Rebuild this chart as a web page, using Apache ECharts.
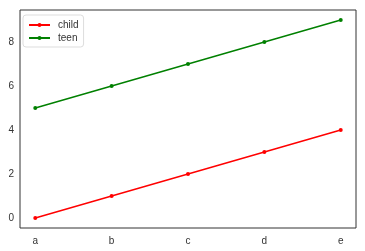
<!DOCTYPE html>
<html><head><meta charset="utf-8">
<script src="https://cdn.jsdelivr.net/npm/echarts@6/dist/echarts.min.js"></script>
<style>html,body{margin:0;padding:0;background:#fff}#c{width:365px;height:251px}</style>
</head><body><div id="c"></div>
<script>
const categories = ['a','b','c','d','e'];
const childValues = [0,1,2,3,4];
const teenValues = [5,6,7,8,9];
const yTicks = [0,2,4,6,8];

const chart = echarts.init(document.getElementById('c'), null, {renderer:'canvas'});
const font = {fontFamily:'Liberation Sans', fontSize:10, color:'#333'};
chart.setOption({
  animation:false,
  backgroundColor:'#fff',
  grid:{left:20, top:10, right:9, bottom:23, show:true, borderColor:'#333', borderWidth:1, containLabel:false},
  legend:{
    orient:'vertical', left:23, top:15, padding:[5,5,4,5], itemGap:3,
    itemWidth:21, itemHeight:5,
    borderColor:'#ddd', borderWidth:1, borderRadius:3, backgroundColor:'#fff',
    textStyle:{fontFamily:'Liberation Sans', fontSize:10, color:'#333', padding:[0,0,0,3], lineHeight:10},
    data:['child','teen']
  },
  xAxis:{
    type:'value', min:-0.2, max:4.2,
    splitLine:{show:false}, axisTick:{show:false},
    axisLine:{show:false},
    axisLabel:{...font, margin:8, customValues:categories.map((c,i)=>i), formatter:v=>categories[Math.round(v)]}
  },
  yAxis:{
    type:'value', min:-0.45, max:9.45,
    splitLine:{show:false}, axisTick:{show:false},
    axisLine:{show:false},
    axisLabel:{...font, margin:6, customValues:yTicks, formatter:v=>String(v)}
  },
  series:[
    {name:'child', type:'line', data:childValues.map((v,i)=>[i,v]), color:'#ff0000',
     lineStyle:{width:1.5}, symbol:'circle', symbolSize:4},
    {name:'teen', type:'line', data:teenValues.map((v,i)=>[i,v]), color:'#008000',
     lineStyle:{width:1.5}, symbol:'circle', symbolSize:4}
  ]
});
</script></body></html>
